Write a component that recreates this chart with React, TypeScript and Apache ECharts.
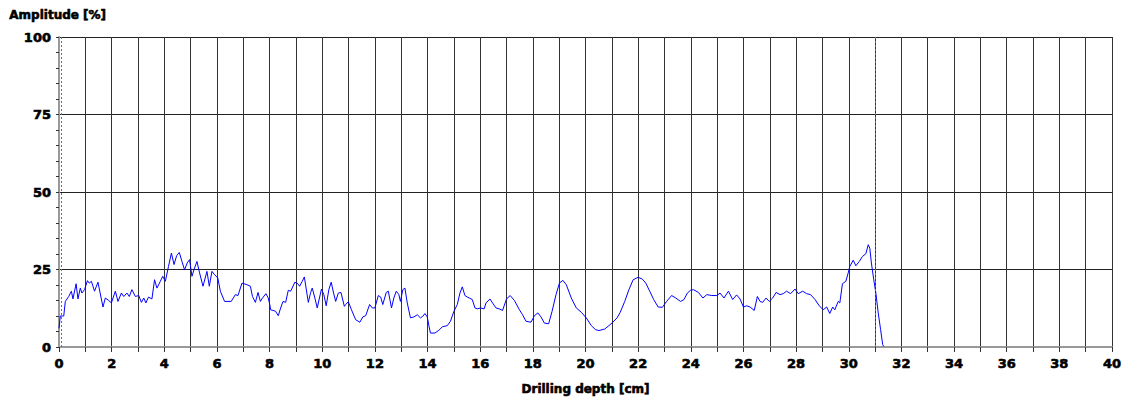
import React, { useEffect, useRef } from "react";
import * as echarts from "echarts";

const depth: number[] = [
  0, 0.05, 0.18, 0.24, 0.37, 0.47, 0.53, 0.65, 0.72, 0.81, 0.87, 0.97, 1.08, 1.15, 1.23, 1.35, 1.48, 1.67, 1.76, 1.89,
  1.99, 2.14, 2.24, 2.37, 2.46, 2.58, 2.67, 2.77, 2.9, 3.03, 3.13, 3.22, 3.3, 3.4, 3.53, 3.63, 3.72, 3.85, 3.94, 4.04,
  4.16, 4.27, 4.37, 4.47, 4.57, 4.67, 4.77, 4.87, 4.96, 5.05, 5.15, 5.24, 5.34, 5.47, 5.62, 5.71, 5.81, 5.91, 6.03, 6.13,
  6.29, 6.54, 6.7, 6.8, 6.95, 7.14, 7.27, 7.35, 7.46, 7.56, 7.65, 7.73, 7.86, 7.94, 8.0, 8.04, 8.13, 8.23, 8.33, 8.42,
  8.51, 8.61, 8.71, 8.8, 8.96, 9.05, 9.14, 9.24, 9.32, 9.47, 9.56, 9.62, 9.72, 9.81, 9.97, 10.06, 10.15, 10.25, 10.34, 10.43,
  10.51, 10.61, 10.71, 10.84, 10.89, 10.99, 11.11, 11.27, 11.43, 11.54, 11.65, 11.8, 11.9, 12.0, 12.13, 12.22, 12.3, 12.43, 12.51, 12.63,
  12.72, 12.81, 12.91, 12.97, 13.06, 13.14, 13.23, 13.35, 13.48, 13.61, 13.73, 13.82, 13.9, 13.99, 14.05, 14.11, 14.28, 14.43, 14.56, 14.75,
  14.87, 15.0, 15.13, 15.23, 15.32, 15.42, 15.51, 15.59, 15.7, 15.8, 15.89, 16.01, 16.15, 16.22, 16.37, 16.47, 16.6, 16.72, 16.85, 17.0,
  17.14, 17.3, 17.49, 17.61, 17.74, 17.93, 18.06, 18.19, 18.31, 18.44, 18.6, 18.73, 18.88, 19.01, 19.14, 19.27, 19.46, 19.65, 19.84, 20.03,
  20.22, 20.38, 20.51, 20.73, 20.89, 21.04, 21.2, 21.32, 21.49, 21.65, 21.81, 22.0, 22.16, 22.29, 22.44, 22.59, 22.76, 22.92, 23.08, 23.27,
  23.43, 23.61, 23.74, 23.87, 23.99, 24.1, 24.29, 24.46, 24.61, 24.8, 24.99, 25.11, 25.26, 25.43, 25.59, 25.74, 25.87, 26.0, 26.12, 26.25,
  26.41, 26.53, 26.63, 26.73, 26.86, 26.98, 27.11, 27.24, 27.39, 27.51, 27.64, 27.79, 27.96, 28.08, 28.25, 28.4, 28.55, 28.72, 28.88, 29.03,
  29.16, 29.28, 29.39, 29.47, 29.6, 29.66, 29.76, 29.89, 29.98, 30.04, 30.17, 30.27, 30.4, 30.52, 30.65, 30.74, 30.8, 30.86, 30.95, 31.03,
  31.12, 31.21, 31.29, 31.33,
];

const amplitude: number[] = [
  6, 10, 10, 14.7, 16.3, 18, 15.5, 20.4, 15.5, 19, 17.4, 18.5, 21.4, 20.6, 21.2, 18, 20.9, 12.9, 15.8, 15,
  14.2, 18, 14.7, 17.4, 16.3, 17.4, 16.3, 18.5, 16.3, 16.6, 14.4, 15.8, 14.2, 16.1, 15.5, 21.7, 19, 21.2, 22.8, 21.2,
  26, 30.3, 26.6, 29.5, 30.5, 27.6, 24.9, 27.1, 28.2, 22.8, 25.5, 27.6, 23.9, 19.6, 24.4, 19.6, 24.4, 23.3, 22.3, 18,
  14.7, 14.7, 16.9, 16.6, 20.6, 20.1, 19.6, 16.3, 14.4, 17.6, 14.7, 15.8, 17.2, 16, 14, 12, 11.8, 11.5, 10.1, 12.6,
  14.7, 14.4, 18.3, 18, 20.9, 20.6, 19.6, 21.2, 22.6, 14.4, 17.6, 19, 15.8, 12.6, 18.7, 16.9, 13.3, 18.5, 20.9, 17.4,
  14.7, 17.4, 17.6, 13.1, 13.7, 14.6, 12, 8.8, 8, 9.7, 10.1, 13.7, 12.6, 12.6, 16.6, 16.1, 13.7, 17.6, 18, 12.6,
  15.8, 18, 16.9, 14.7, 18.5, 19, 14.2, 9.4, 9.7, 10.4, 9.4, 9.9, 10.8, 9.7, 6.9, 4.5, 4.5, 5.4, 6.5, 6.9,
  8.3, 11.5, 13.7, 17.4, 19.4, 16.6, 16.1, 15.8, 15.3, 12.6, 12.3, 12.6, 12.3, 14.2, 15.5, 14.2, 12.6, 12.3, 11.8, 15.5,
  16.6, 15, 12, 10.4, 8.3, 8, 10.1, 11, 9.7, 7.7, 7.5, 11.5, 16.9, 20.6, 21.5, 20.1, 15.8, 12.6, 11.2, 9.4,
  6.9, 5.6, 5.3, 5.8, 6.9, 8, 9.4, 11.2, 14.7, 18.5, 21.7, 22.5, 21.9, 20.6, 18, 15.3, 12.9, 12.8, 14.7, 16.6,
  15.8, 14.7, 15.3, 17.4, 18.3, 18.5, 17.6, 15.8, 16.9, 16.6, 16.6, 17.4, 15.8, 18, 15.3, 16.8, 15.5, 12.9, 13.3, 12.9,
  11.8, 16.3, 14.7, 14.4, 15.8, 14.7, 15.8, 17.6, 16.9, 17.2, 18, 17.2, 18.7, 17.2, 18, 17.2, 16.9, 15.3, 13.3, 12,
  12.9, 10.8, 12.9, 12, 14.7, 14.2, 20.4, 21.2, 23.9, 26, 28, 26.2, 27.6, 29.2, 30.1, 33, 31.9, 27.1, 21.7, 17.4,
  11, 5.6, 0.75, 0.2,
];

const markerDepths: number[] = [0.1, 31];

const yTitle = "Amplitude [%]";
const xTitle = "Drilling depth [cm]";

const FONT = "'DejaVu Sans', 'Liberation Sans', Arial, sans-serif";
const HEAVY = { textBorderColor: "#000", textBorderWidth: 0.6 };

export default function App() {
  const ref = useRef<HTMLDivElement>(null);

  useEffect(() => {
    if (!ref.current) return;
    const chart = echarts.init(ref.current, null, { renderer: "svg" });
    const data = depth.map((d, i) => [d, amplitude[i]]);
    chart.setOption({
      animation: false,
      backgroundColor: "#ffffff",
      grid: { left: 59, right: 14, top: 37, bottom: 58, containLabel: false },
      graphic: [
        {
          type: "text",
          left: 9,
          top: 9,
          style: { text: yTitle, font: `bold 12px ${FONT}`, fill: "#000", stroke: "#000", lineWidth: 0.6 },
        },
      ],
      xAxis: {
        type: "value",
        min: 0,
        max: 40,
        interval: 1,
        name: xTitle,
        nameLocation: "middle",
        nameGap: 36,
        nameTextStyle: { fontFamily: FONT, fontWeight: "bold", fontSize: 12, color: "#000", ...HEAVY },
        axisLine: { show: true, lineStyle: { color: "#999", width: 2 } },
        axisTick: { show: true, length: 5, lineStyle: { color: "#333", width: 1 } },
        axisLabel: {
          fontFamily: FONT,
          fontWeight: "bold",
          fontSize: 13,
          color: "#000",
          margin: 10,
          ...HEAVY,
          formatter: (v: number) => (Math.round(v) % 2 === 0 ? String(Math.round(v)) : ""),
        },
        splitLine: { show: true, lineStyle: { color: "#333", width: 1 } },
      },
      yAxis: {
        type: "value",
        min: 0,
        max: 100,
        interval: 25,
        axisLine: { show: true, lineStyle: { color: "#999", width: 2 } },
        axisTick: { show: true, length: 3, lineStyle: { color: "#333", width: 1 } },
        minorTick: { show: true, splitNumber: 5, length: 3, lineStyle: { color: "#333", width: 1 } },
        axisLabel: { fontFamily: FONT, fontWeight: "bold", fontSize: 13, color: "#000", margin: 8, ...HEAVY },
        splitLine: { show: true, lineStyle: { color: "#222", width: 1 } },
      },
      series: [
        {
          type: "line",
          data,
          showSymbol: false,
          symbol: "none",
          lineStyle: { color: "#0000ff", width: 1 },
          markLine: {
            silent: true,
            symbol: "none",
            label: { show: false },
            lineStyle: { color: "#ff3030", type: [2, 2], width: 1 },
            data: markerDepths.map((d) => ({ xAxis: d })),
          },
        },
      ],
    });
    return () => chart.dispose();
  }, []);

  return (
    <div
      ref={ref}
      style={{ position: "absolute", left: 0, top: 0, width: 1126, height: 405, background: "#fff" }}
    />
  );
}
